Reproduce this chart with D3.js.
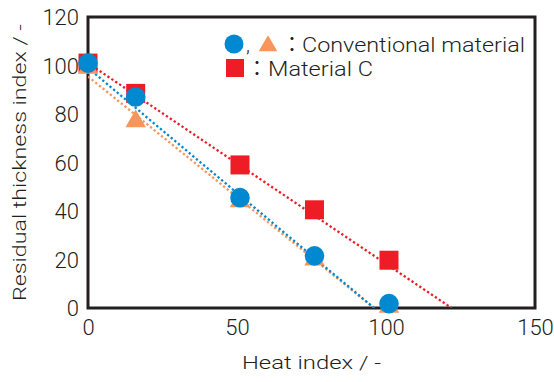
<!DOCTYPE html>
<html><head><meta charset="utf-8">
<script src="https://cdn.jsdelivr.net/npm/d3@7"></script>
<style>html,body{margin:0;padding:0;background:#fff;}svg{display:block;}</style>
</head><body><svg id="c" width="554" height="382"></svg>
<script>
const heatConv = [0, 16, 51, 76, 101];
const circleVals = [101, 87, 45.5, 21.5, 1.8];
const triangleVals = [99, 77, 44, 20, 0.5];
const heatC = [0, 16, 51, 76, 101];
const squareVals = [101, 88.5, 59, 40.5, 19.7];
const trendRed = [[0, 101], [122, 0]];
const trendBlue = [[0, 99], [96, 0]];
const trendOrange = [[0, 95.5], [96, 0]];
const xTicks = [0, 50, 100, 150];
const yTicks = [0, 20, 40, 60, 80, 100, 120];

const RED = "#ee1c25", BLUE = "#0088d1", ORANGE = "#f7955b", INK = "#231f20";
const FONT = "Roboto, 'Noto Sans CJK JP', sans-serif";
const svg = d3.select("#c");
const L = 88, R = 535, T = 17, B = 308;
const x = d3.scaleLinear().domain([0, 150]).range([L, R]);
const y = d3.scaleLinear().domain([0, 120]).range([B, T]);

svg.append("clipPath").attr("id", "pc").append("rect")
  .attr("x", L).attr("y", T).attr("width", R - L).attr("height", B - T);

// frame
svg.append("rect").attr("x", L).attr("y", T).attr("width", R - L).attr("height", B - T)
  .attr("fill", "none").attr("stroke", INK).attr("stroke-width", 3);

const line = d3.line().x(d => x(d[0])).y(d => y(d[1]));
const g = svg.append("g").attr("clip-path", "url(#pc)");
[[trendOrange, ORANGE], [trendBlue, BLUE], [trendRed, RED]].forEach(([d, c]) => {
  g.append("path").attr("d", line(d)).attr("fill", "none").attr("stroke", c)
    .attr("stroke-width", 2.3).attr("stroke-dasharray", "2.3,2.4");
});

// axes (labels only; frame drawn separately)
const xAxis = d3.axisBottom(x).tickValues(xTicks).tickSize(0).tickPadding(11);
const yAxis = d3.axisLeft(y).tickValues(yTicks).tickSize(0).tickPadding(9);
const gx = svg.append("g").attr("transform", `translate(0,${B})`).call(xAxis);
const gy = svg.append("g").attr("transform", `translate(${L},0)`).call(yAxis);
[gx, gy].forEach(a => {
  a.select(".domain").remove();
  a.selectAll("text").attr("font-family", FONT).attr("font-weight", 300)
    .attr("font-size", 22).attr("fill", INK);
});
gy.selectAll("text").attr("dy", "0.36em");
gx.selectAll("text").attr("dy", "0.72em");

// markers (drawn over the frame)
svg.append("g").selectAll("rect").data(heatC.map((h, i) => [h, squareVals[i]])).join("rect")
  .attr("x", d => x(d[0]) - 9.5).attr("y", d => y(d[1]) - 9.5)
  .attr("width", 19).attr("height", 19).attr("fill", RED);
const tri = d3.symbol().type(d3.symbolTriangle).size(180);
svg.append("g").selectAll("path").data(heatConv.map((h, i) => [h, triangleVals[i]])).join("path")
  .attr("d", tri).attr("transform", d => `translate(${x(d[0])},${y(d[1])})`).attr("fill", ORANGE);
svg.append("g").selectAll("circle").data(heatConv.map((h, i) => [h, circleVals[i]])).join("circle")
  .attr("cx", d => x(d[0])).attr("cy", d => y(d[1])).attr("r", 9.8).attr("fill", BLUE);

function txt(sel, s, size, len) {
  return sel.attr("font-family", FONT).attr("font-weight", 300).attr("font-size", size)
    .attr("fill", INK).attr("textLength", len).attr("lengthAdjust", "spacingAndGlyphs").text(s);
}
// axis titles
txt(svg.append("text").attr("x", 242).attr("y", 369), "Heat index / -", 19, 139);
txt(svg.append("text").attr("transform", "translate(25.5,301) rotate(-90)"),
  "Residual thickness index / -", 19, 277);

// legend
const lg = svg.append("g");
lg.append("circle").attr("cx", 234).attr("cy", 44).attr("r", 9.5).attr("fill", BLUE);
lg.append("text").attr("x", 246).attr("y", 52).attr("font-family", FONT).attr("font-weight", 300)
  .attr("font-size", 20).attr("fill", INK).text(",");
lg.append("path").attr("d", d3.symbol().type(d3.symbolTriangle).size(150)())
  .attr("transform", "translate(268,46)").attr("fill", ORANGE);
lg.append("text").attr("x", 292).attr("y", 52).attr("text-anchor", "middle")
  .attr("font-family", FONT).attr("font-size", 20).attr("fill", INK).text("：");
txt(lg.append("text").attr("x", 302).attr("y", 52), "Conventional material", 20, 223);
lg.append("rect").attr("x", 226).attr("y", 59).attr("width", 18).attr("height", 18).attr("fill", RED);
lg.append("text").attr("x", 257).attr("y", 76).attr("text-anchor", "middle")
  .attr("font-family", FONT).attr("font-size", 20).attr("fill", INK).text("：");
txt(lg.append("text").attr("x", 268).attr("y", 76), "Material C", 20, 105);
</script></body></html>
